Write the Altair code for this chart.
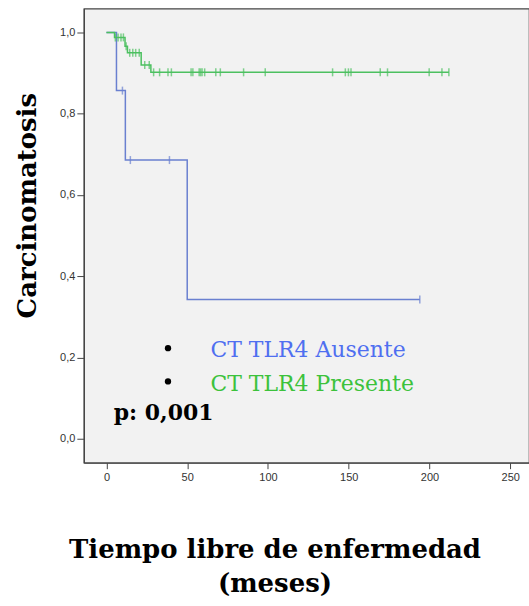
import altair as alt
import pandas as pd

# Kaplan-Meier steps: event times (months) and survival after each step
ausente_t = [0, 6.2, 11.7, 50, 194]
ausente_s = [1.0, 0.857, 0.686, 0.343, 0.343]
ausente_censor = [9.9, 14.8, 39.0, 194]

presente_t = [0, 5, 11.5, 13, 21.5, 27.5, 212]
presente_s = [1.0, 0.988, 0.966, 0.950, 0.920, 0.902, 0.902]
presente_censor = [5.5, 7.2, 9.0, 10.5, 12.2, 14.4, 16.3, 18.1, 20.3, 23.7, 26.5,
                   29.2, 32.9, 38.1, 40.2, 52.4, 53.5, 57.4, 58.3, 59.2, 60.8, 67.7,
                   70.5, 84.9, 98.3, 140, 147.9, 149.8, 151.4, 169.5, 174, 199.8,
                   207.7, 212]

groups = ["CT TLR4 Ausente", "CT TLR4 Presente"]
line_colors = ["#6a80d0", "#4cc060"]
text_colors = ["#4f6ff0", "#3cc23c"]


def surv_at(t, times, surv):
    value = surv[0]
    for ti, si in zip(times, surv):
        if ti <= t:
            value = si
    return value


curve_rows = []
censor_rows = []
for name, times, surv, cens in [
    (groups[0], ausente_t, ausente_s, ausente_censor),
    (groups[1], presente_t, presente_s, presente_censor),
]:
    for ti, si in zip(times, surv):
        curve_rows.append({"grupo": name, "t": ti, "s": si})
    for c in cens:
        censor_rows.append({"grupo": name, "t": c, "s": surv_at(c, times, surv)})

curves = pd.DataFrame(curve_rows)
censors = pd.DataFrame(censor_rows)

x_scale = alt.Scale(domain=[-14.0, 261.6], nice=False, zero=False)
y_scale = alt.Scale(domain=[-0.059, 1.059], nice=False, zero=False)
color_scale = alt.Scale(domain=groups, range=line_colors)

x_enc = alt.X(
    "t:Q", scale=x_scale,
    axis=alt.Axis(
        values=[0, 50, 100, 150, 200, 250], format="d",
        title=["Tiempo libre de enfermedad", "(meses)"],
        titleX=191, titleY=95, titleAlign="center", titleBaseline="alphabetic",
        titleLineHeight=34, tickSize=6, labelPadding=3,
    ),
)
y_enc = alt.Y(
    "s:Q", scale=y_scale,
    axis=alt.Axis(
        values=[0, 0.2, 0.4, 0.6, 0.8, 1.0],
        labelExpr="replace(format(datum.value, '.1f'), '.', ',')",
        title="Carcinomatosis", titleAngle=270, titleX=-48, titleY=197,
        titleAlign="center", titleBaseline="alphabetic", tickSize=7, labelPadding=2,
    ),
)

lines = alt.Chart(curves).mark_line(interpolate="step-after", strokeWidth=1.5).encode(
    x=x_enc, y=y_enc,
    color=alt.Color("grupo:N", scale=color_scale, legend=None),
    detail="grupo:N",
)

ticks = alt.Chart(censors).mark_tick(orient="vertical", size=8, thickness=1.5).encode(
    x="t:Q", y="s:Q",
    color=alt.Color("grupo:N", scale=color_scale, legend=None),
)

# Annotation block: bullet list of groups and p-value
legend_labels = pd.DataFrame({
    "t": [64.4, 64.4], "s": [0.200, 0.118], "label": groups, "col": text_colors,
})
bullets = pd.DataFrame({"t": [38.1, 38.1], "s": [0.223, 0.141]})
pval = pd.DataFrame({"t": [4.5], "s": [0.045], "label": ["p: 0,001"]})

label_text = alt.Chart(legend_labels).mark_text(
    align="left", baseline="alphabetic", font="DejaVu Serif", fontSize=22,
).encode(x="t:Q", y="s:Q", text="label:N", color=alt.Color("col:N", scale=None))

bullet_marks = alt.Chart(bullets).mark_point(
    shape="circle", filled=True, size=40, color="black", opacity=1,
).encode(x="t:Q", y="s:Q")

p_text = alt.Chart(pval).mark_text(
    align="left", baseline="alphabetic", font="DejaVu Serif", fontSize=22,
    fontWeight="bold", color="black",
).encode(x="t:Q", y="s:Q", text="label:N")

chart = (
    alt.layer(lines, ticks, label_text, bullet_marks, p_text)
    .properties(
        width=446, height=455,
        autosize=alt.AutoSizeParams(type="none"),
        padding={"left": 84, "top": 8, "right": 0, "bottom": 143},
        background="white",
    )
    .configure_view(fill="#f2f2f2", stroke="#444444", strokeWidth=1.2)
    .configure_axis(
        grid=False,
        domainColor="#444444", domainWidth=1.2,
        tickColor="#444444", tickWidth=1,
        labelFont="Liberation Sans", labelFontSize=11, labelColor="#333333",
        titleFont="DejaVu Serif", titleFontSize=26, titleFontWeight="bold",
        titleColor="black",
    )
)

chart.save("out.html", embed_options={"renderer": "svg", "actions": False})
